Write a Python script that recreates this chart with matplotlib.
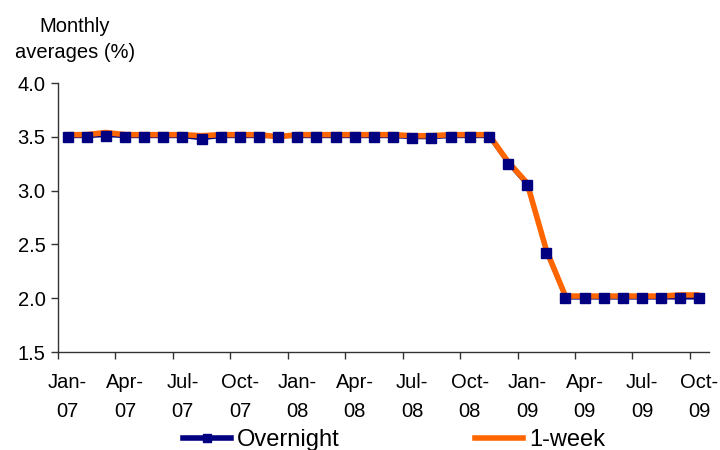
import matplotlib
matplotlib.use("Agg")
import matplotlib.pyplot as plt
from matplotlib.lines import Line2D

plt.rcParams['font.family'] = ['Liberation Sans', 'DejaVu Sans']

months = ["Jan-07", "Feb-07", "Mar-07", "Apr-07", "May-07", "Jun-07", "Jul-07", "Aug-07",
          "Sep-07", "Oct-07", "Nov-07", "Dec-07", "Jan-08", "Feb-08", "Mar-08", "Apr-08",
          "May-08", "Jun-08", "Jul-08", "Aug-08", "Sep-08", "Oct-08", "Nov-08", "Dec-08",
          "Jan-09", "Feb-09", "Mar-09", "Apr-09", "May-09", "Jun-09", "Jul-09", "Aug-09",
          "Sep-09", "Oct-09"]

overnight = [3.50, 3.50, 3.51, 3.50, 3.50, 3.50, 3.50, 3.48,
             3.50, 3.50, 3.50, 3.50, 3.50, 3.50, 3.50, 3.50,
             3.50, 3.50, 3.49, 3.49, 3.50, 3.50, 3.50, 3.25,
             3.05, 2.42, 2.00, 2.00, 2.00, 2.00, 2.00, 2.00,
             2.00, 2.00]

one_week = [3.52, 3.52, 3.54, 3.52, 3.52, 3.52, 3.52, 3.51,
            3.52, 3.52, 3.52, 3.50, 3.52, 3.52, 3.52, 3.52,
            3.52, 3.52, 3.51, 3.51, 3.52, 3.52, 3.52, 3.27,
            3.07, 2.45, 2.02, 2.02, 2.02, 2.02, 2.02, 2.02,
            2.03, 2.03]

y_ticks = [1.5, 2.0, 2.5, 3.0, 3.5, 4.0]
tick_every = 3
navy = "#000080"
orange = "#FF6600"

fig = plt.figure(figsize=(7.2, 4.5), dpi=100)
ax = fig.add_axes([58 / 720, 1 - 352 / 450, 651 / 720, 269 / 450])

x = list(range(len(months)))
ax.plot(x, overnight, color=navy, lw=2.0, zorder=2)
ax.plot(x, one_week, color=orange, lw=4.0, zorder=3, solid_capstyle='butt')
ax.plot(x, overnight, ls='none', marker='s', ms=7.8, color=navy, zorder=4)

ax.set_xlim(-0.5, len(months) - 0.5)
ax.set_ylim(1.5, 4.0)
ax.set_yticks(y_ticks)
ax.set_yticklabels([f"{v:.1f}" for v in y_ticks])

# tick marks on category boundaries, labels on category centres
bounds = [i - 0.5 for i in range(0, len(months), tick_every)]
ax.set_xticks(bounds)
ax.set_xticklabels([])
centres = list(range(0, len(months), tick_every))
ax.set_xticks(centres, minor=True)
ax.set_xticklabels([m.replace("-", "-\n") for m in months[::tick_every]], minor=True)
ax.tick_params(axis='x', which='major', direction='out', length=5, width=1, color='#333333')
ax.tick_params(axis='x', which='minor', length=0, pad=15, labelsize=14.5)
ax.tick_params(axis='y', direction='out', length=5, width=1, color='#333333', labelsize=14.5, pad=4)
for lab in ax.get_xticklabels(minor=True):
    lab.set_linespacing(1.7)

for s in ['top', 'right']:
    ax.spines[s].set_visible(False)
for s in ['left', 'bottom']:
    ax.spines[s].set_color('#333333')
    ax.spines[s].set_linewidth(1)

fig.text(75 / 720, 1 - 32 / 450, "Monthly", ha='center', va='baseline', fontsize=14.5)
fig.text(75 / 720, 1 - 58 / 450, "averages (%)", ha='center', va='baseline', fontsize=14.5)

handles = [Line2D([], [], color=navy, lw=4, marker='s', ms=6),
           Line2D([], [], color=orange, lw=4)]
fig.legend(handles, ["Overnight", "1-week"], loc='center left',
           bbox_to_anchor=(183 / 720, 1 - 440 / 450),
           ncol=2, frameon=False, fontsize=17, handlelength=2.05, handletextpad=0.25,
           columnspacing=5.7, borderpad=0, borderaxespad=0)

fig.savefig("out.png", dpi=100)
